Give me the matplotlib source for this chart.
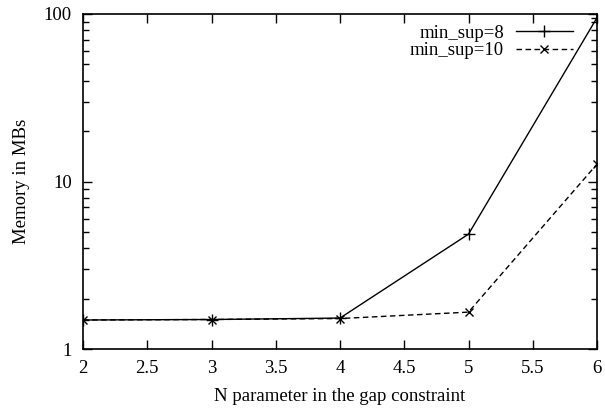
import matplotlib
matplotlib.use('Agg')
import matplotlib.pyplot as plt
from matplotlib.ticker import FixedLocator, LogLocator, NullFormatter

plt.rcParams['font.family'] = ['Liberation Serif', 'DejaVu Serif']

n_values = [2, 3, 4, 5, 6]
mem_sup8 = [1.49, 1.50, 1.53, 4.85, 95.0]
mem_sup10 = [1.49, 1.50, 1.52, 1.66, 12.7]

fig = plt.figure(figsize=(6.05, 4.12), dpi=100)
ax = fig.add_axes([83 / 605, 1 - 349 / 412, (597 - 83) / 605, (349 - 14) / 412])

ax.plot(n_values, mem_sup8, color='black', linestyle='-', linewidth=1.0,
        marker='+', markersize=8, markeredgewidth=1.0, label='min_sup=8')
ax.plot(n_values, mem_sup10, color='black', linestyle=(0, (4, 2.5)), linewidth=1.0,
        marker='x', markersize=6, markeredgewidth=1.0, label='min_sup=10')

ax.set_yscale('log')
ax.set_xlim(2, 6)
ax.set_ylim(1, 100)
ax.xaxis.set_major_locator(FixedLocator([2, 2.5, 3, 3.5, 4, 4.5, 5, 5.5, 6]))
ax.set_xticklabels(['2', '2.5', '3', '3.5', '4', '4.5', '5', '5.5', '6'])
ax.yaxis.set_major_locator(FixedLocator([1, 10, 100]))
ax.set_yticklabels(['1', '10', '100'])
ax.yaxis.set_minor_locator(LogLocator(base=10, subs=range(2, 10)))
ax.yaxis.set_minor_formatter(NullFormatter())

ax.tick_params(which='both', direction='in', top=True, right=True, labelsize=13.5, width=1)
ax.tick_params(which='major', length=6.5, pad=8)
ax.tick_params(which='minor', length=4)
for s in ax.spines.values():
    s.set_linewidth(1.2)

ax.set_xlabel('N parameter in the gap constraint', fontsize=13.5, labelpad=8)
ax.set_ylabel('Memory in MBs', fontsize=13.5, labelpad=10)

ax.legend(loc='upper right', bbox_to_anchor=(0.967, 0.99), borderaxespad=0,
          markerfirst=False, frameon=False, fontsize=13.5,
          handlelength=3.0, labelspacing=0.0, handletextpad=0.65)

fig.savefig('out.png', dpi=100)
